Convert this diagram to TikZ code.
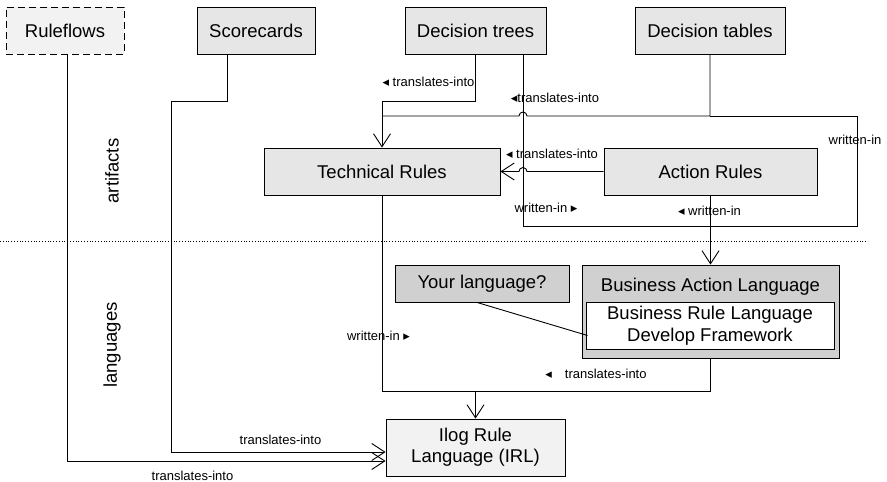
\documentclass[tikz,border=0pt]{standalone}
\usepackage{fontspec}
\setmainfont{Liberation Sans}
\newfontfamily\symfont{DejaVu Sans}
\usetikzlibrary{arrows.meta,positioning}
\definecolor{RULEgray}{HTML}{E6E6E6}
\definecolor{RULEpale}{HTML}{F2F2F2}
\definecolor{RULEdark}{HTML}{D0D0D0}
\newcommand{\tril}{{\symfont\char"25C2}}
\newcommand{\trir}{{\symfont\char"25B8}}
\tikzset{rulebox/.style={draw,line width=0.9pt,fill=RULEgray,align=center,
 font=\fontsize{18.5}{22}\selectfont,inner sep=0pt,minimum height=47pt},
 rulearr/.style={-{Straight Barb[length=13pt,width=17pt]},line width=0.9pt},
 ruleline/.style={line width=0.9pt},
 rulelbl/.style={font=\fontsize{13}{15}\selectfont,inner sep=0pt}}

\begin{document}
\begin{tikzpicture}[x=1pt,y=-1pt]
\useasboundingbox (0,0) rectangle (887,482);
% artifacts
\node[rulebox,dash pattern=on 7pt off 4pt,fill=RULEpale,minimum width=118pt] (ruleflows) at (65,30.5) {Ruleflows};
\node[rulebox,minimum width=118pt] (scorecards) at (256,30.5) {Scorecards};
\node[rulebox,minimum width=141pt] (trees) at (475.5,30.5) {Decision trees};
\node[rulebox,minimum width=150pt] (tables) at (710,30.5) {Decision tables};
\node[rulebox,minimum width=236pt] (technical) at (382,171.5) {Technical Rules};
\node[rulebox,minimum width=213pt] (action) at (710.5,171.5) {Action Rules};
% languages
\node[rulebox,fill=RULEdark,minimum width=174pt,minimum height=37pt] (yourlang) at (482,283.5) {Your language?};
\node[rulebox,fill=RULEdark,minimum width=257pt,minimum height=93pt] (bal) at (710.5,311.5) {};
\node[rulebox,draw=none,fill=none,minimum height=0pt] (balname) at ([yshift=-22pt]bal.north) {Business Action Language};
\node[rulebox,fill=white,minimum width=248pt] (brl) at (710,325.5) {Business Rule Language\\Develop Framework};
\node[rulebox,fill=RULEpale,minimum width=179pt,minimum height=57pt,font=\fontsize{18.5}{21}\selectfont] (irl) at (475.5,447.5) {Ilog Rule\\Language (IRL)};
\node[rotate=90,font=\fontsize{18.5}{22}\selectfont] (artifacts) at (112,171) {artifacts};
\node[rotate=90,font=\fontsize{18.5}{22}\selectfont] (languages) at (112,345) {languages};
\draw[dotted,line width=0.8pt] (0,241) -- (868,241);
% connectors
\draw[rulearr] ([xshift=2pt]ruleflows.south) |- ([yshift=-13.5pt]irl.west);
\draw[rulearr] ([xshift=-29pt]scorecards.south) |- (171,101) |- ([yshift=-4.5pt]irl.west);
\draw[rulearr] (trees.south) -- ++(0,47) -| (technical.north);
\draw[ruleline] ([xshift=47.5pt]trees.south) |- (857,226) -- (857,116) -- (710,116);
\draw[ruleline] (tables.south) |- (527,116) arc[start angle=0,end angle=180,radius=4pt] -- (382,116);
\draw[rulearr] (action.west) -- (527,171.5) arc[start angle=0,end angle=180,radius=4pt] -- (technical.east);
\draw[rulearr] (action.south) -- (bal.north);
\draw[ruleline] (technical.south) |- (710.5,391) -- (bal.south);
\draw[rulearr] ([yshift=28pt]irl.north) -- (irl.north);
\draw[ruleline] ([xshift=-5pt]yourlang.south) -- ([xshift=2pt,yshift=-10pt]brl.west);
% labels
\node[rulelbl] (lbltree) at (428.5,82) {\tril\ translates-into};
\node[rulelbl] (lbltable) at (555,98) {\tril translates-into};
\node[rulelbl] (lblaction) at (552,154) {\tril\ translates-into};
\node[rulelbl] (lbltreew) at (546,208) {written-in \trir};
\node[rulelbl] (lblactw) at (709.5,211) {\tril\ written-in};
\node[rulelbl] (lbltablew) at (855,140) {written-in};
\node[rulelbl] (lbltechw) at (378.5,336) {written-in \trir};
\node[rulelbl] (lblbal) at (596,374) {\tril\quad translates-into};
\node[rulelbl] (lblscore) at (280.5,440) {translates-into};
\node[rulelbl] (lblflow) at (192.5,476) {translates-into};
\end{tikzpicture}
\end{document}
